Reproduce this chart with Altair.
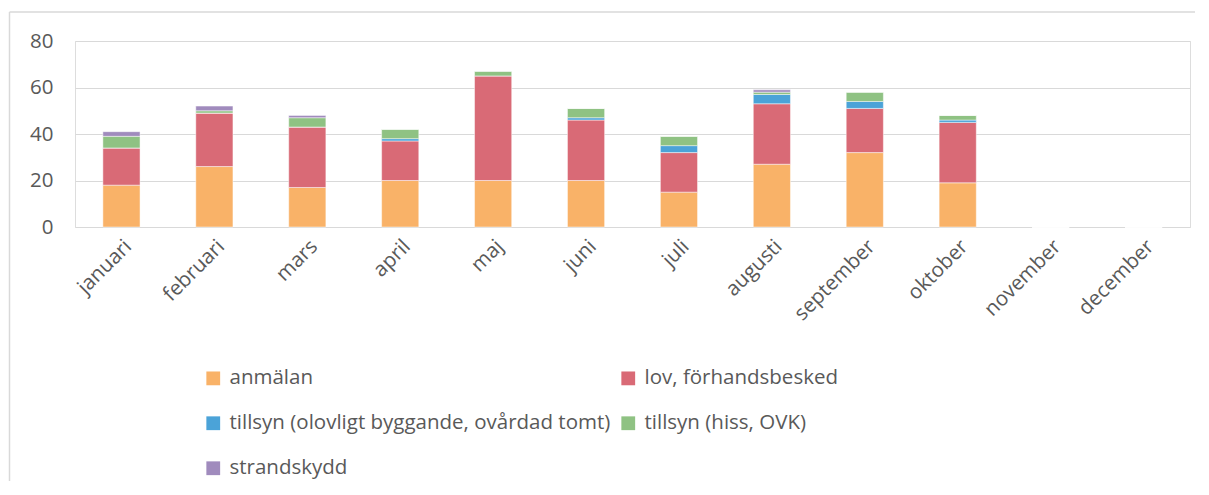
import altair as alt
import pandas as pd

months = ["januari", "februari", "mars", "april", "maj", "juni", "juli",
          "augusti", "september", "oktober", "november", "december"]
series = ["anmälan", "lov, förhandsbesked", "tillsyn (olovligt byggande, ovårdad tomt)",
          "tillsyn (hiss, OVK)", "strandskydd"]
colors = ["#F9B268", "#D96A76", "#4BA3D8", "#8FC283", "#A08BBD"]

anmalan = [18, 26, 17, 20, 20, 20, 15, 27, 32, 19, 0, 0]
lov = [16, 23, 26, 17, 45, 26, 17, 26, 19, 26, 0, 0]
tillsyn_olov = [0, 0, 0, 1, 0, 1, 3, 4, 3, 1, 0, 0]
tillsyn_hiss = [5, 1, 4, 4, 2, 4, 4, 1, 4, 2, 0, 0]
strandskydd = [2, 2, 1, 0, 0, 0, 0, 1, 0, 0, 0, 0]

values = [anmalan, lov, tillsyn_olov, tillsyn_hiss, strandskydd]
rows = []
for si, (s, vals) in enumerate(zip(series, values)):
    for m, v in zip(months, vals):
        rows.append({"month": m, "series": s, "value": v, "order": si})
df = pd.DataFrame(rows)

FONT = "Open Sans"
TXT = "#595959"

bars = alt.Chart(df).mark_bar(stroke="white", strokeWidth=0.8, strokeOpacity=0.6).encode(
    x=alt.X("month:N", sort=months, title=None,
            scale=alt.Scale(paddingInner=0.6, paddingOuter=0.3),
            axis=alt.Axis(labelAngle=-45, labelFontSize=20.5, labelColor=TXT, labelFont=FONT,
                          domain=False, ticks=False, labelPadding=9)),
    y=alt.Y("value:Q", stack="zero", title=None,
            scale=alt.Scale(domain=[0, 80], nice=False),
            axis=alt.Axis(values=[0, 20, 40, 60, 80], labelFontSize=20.5, labelColor=TXT,
                          labelFont=FONT, domain=False, ticks=False, labelPadding=22,
                          gridColor="#d9d9d9", gridWidth=1)),
    color=alt.Color("series:N", sort=series,
                    scale=alt.Scale(domain=series, range=colors),
                    legend=alt.Legend(title=None, orient="none", legendX=128, legendY=327,
                                      direction="horizontal",
                                      columns=2, columnPadding=7, rowPadding=24,
                                      symbolType="square", symbolSize=190,
                                      symbolStrokeWidth=0, labelFontSize=20.5,
                                      labelColor=TXT, labelFont=FONT, labelLimit=700,
                                      labelOffset=6)),
    order=alt.Order("order:Q"),
)

edge = pd.DataFrame({"a": [0]})
left_edge = alt.Chart(edge).mark_rule(color="#d9d9d9", strokeWidth=1.5, clip=False).encode(
    x=alt.value(-65.5), y=alt.value(-29), y2=alt.value(440)
)
top_edge = alt.Chart(edge).mark_rule(color="#d9d9d9", strokeWidth=1.5, clip=False).encode(
    y=alt.value(-29), x=alt.value(-65.5), x2=alt.value(1120)
)

chart = alt.layer(left_edge, top_edge, bars).properties(
    width=1115, height=186,
    autosize=alt.AutoSizeParams(type="none"),
    padding={"left": 67, "top": 33, "right": 5, "bottom": 254},
).configure_view(stroke=None).configure(background="white")

chart.save("out.html", embed_options={"renderer": "svg", "actions": False})
